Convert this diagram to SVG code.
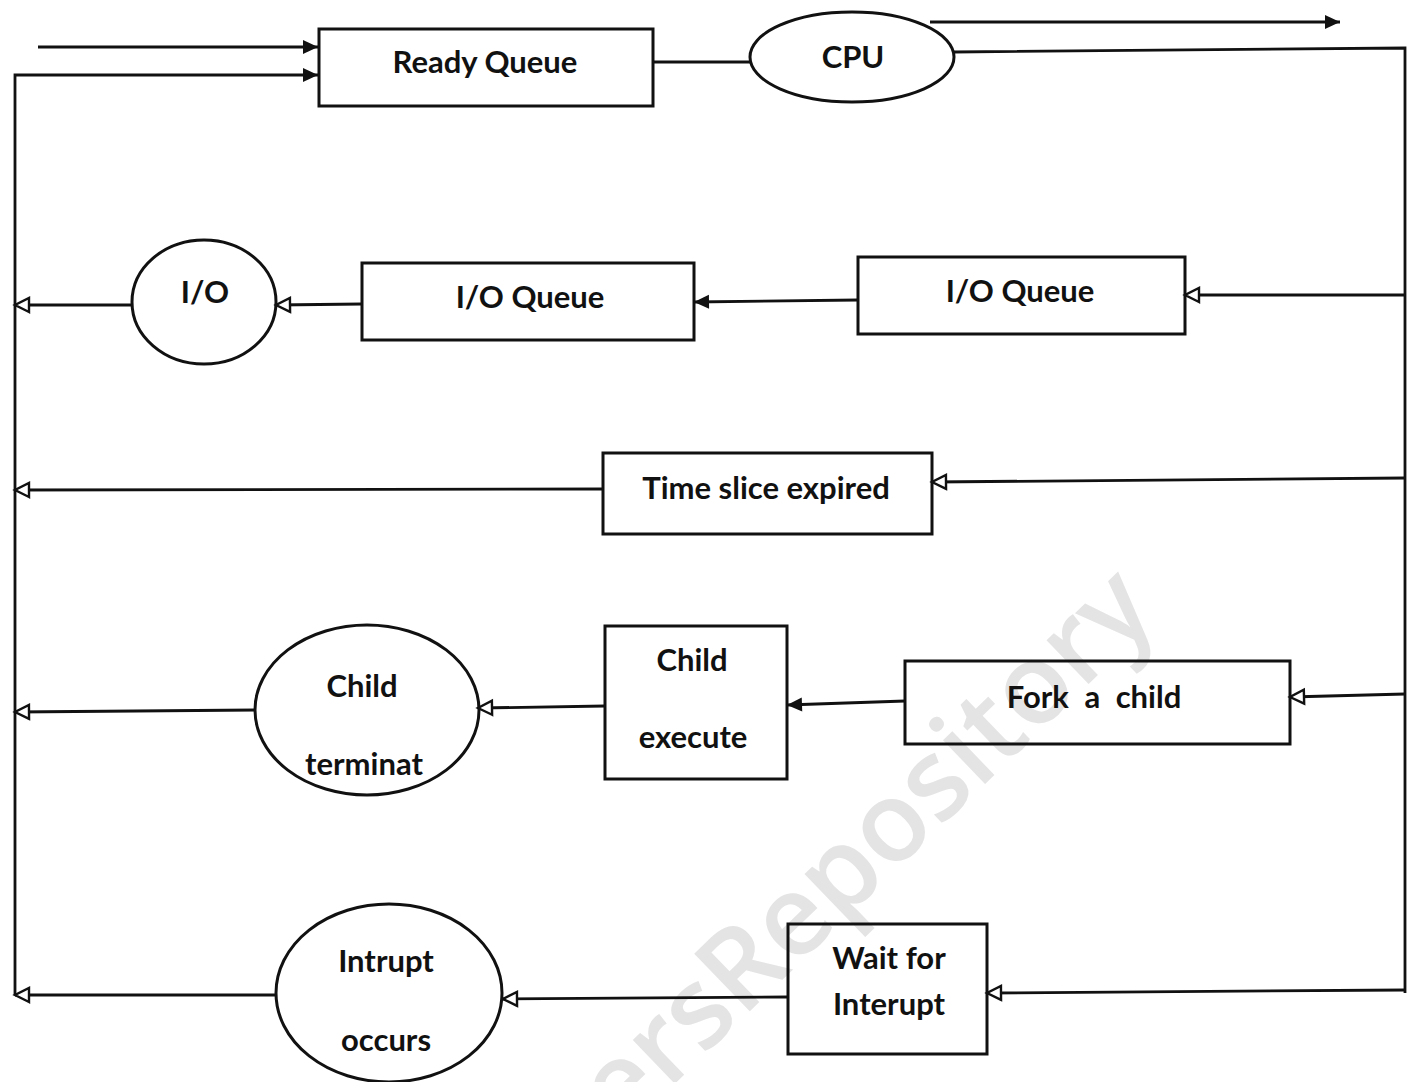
<svg xmlns="http://www.w3.org/2000/svg" width="1422" height="1082" viewBox="0 0 1422 1082">
<defs>
<style>
.n{fill:none;stroke:#111;stroke-width:3}
.t{font-family:Lato,"Open Sans","Liberation Sans",sans-serif;font-weight:700;font-size:31px;fill:#111;text-anchor:middle}
.c{fill:none;stroke:#111;stroke-width:2.8}
.wm{font-family:"Open Sans","Liberation Sans",sans-serif;font-weight:600;font-size:112px;fill:#e4e4e4}
</style>
<marker id="af" markerUnits="userSpaceOnUse" markerWidth="18" markerHeight="18" viewBox="0 0 18 18" refX="16" refY="9" orient="auto"><path d="M1,2 L16,9 L1,16 Z" fill="#111"/></marker>
<marker id="ah" markerUnits="userSpaceOnUse" markerWidth="20" markerHeight="20" viewBox="0 0 20 20" refX="17" refY="10" orient="auto"><path d="M3,3 L17,10 L3,17 Z" fill="#fff" stroke="#111" stroke-width="2.4"/></marker>
</defs>
<rect width="1422" height="1082" fill="#fff"/>
<text class="wm" transform="translate(1160,615) rotate(-44)" text-anchor="end">PapersRepository</text>

<g id="connectors">
<path class="c" d="M38,47 H318" marker-end="url(#af)"/>
<path class="c" d="M15,995 V75 H318" marker-end="url(#af)"/>
<path class="c" d="M653,62 H750"/>
<path class="c" d="M930,22 H1340" marker-end="url(#af)"/>
<path class="c" d="M954,52 L1405,48 V993"/>
<path class="c" d="M1405,295 H1185" marker-end="url(#ah)"/>
<path class="c" d="M858,300 L694,302" marker-end="url(#af)"/>
<path class="c" d="M362,304 L276,305" marker-end="url(#ah)"/>
<path class="c" d="M132,305 H15" marker-end="url(#ah)"/>
<path class="c" d="M1405,478 L932,482" marker-end="url(#ah)"/>
<path class="c" d="M603,489 L15,490" marker-end="url(#ah)"/>
<path class="c" d="M1405,694 L1290,697" marker-end="url(#ah)"/>
<path class="c" d="M905,701 L787,705" marker-end="url(#af)"/>
<path class="c" d="M605,706 L478,708" marker-end="url(#ah)"/>
<path class="c" d="M256,710 L15,712" marker-end="url(#ah)"/>
<path class="c" d="M1405,990 L987,993" marker-end="url(#ah)"/>
<path class="c" d="M788,997 L503,999" marker-end="url(#ah)"/>
<path class="c" d="M276,995 H15" marker-end="url(#ah)"/>
</g>

<g id="ready-queue"><rect class="n" x="319" y="29" width="334" height="77"/><text class="t" x="485" y="73">Ready Queue</text></g>
<g id="cpu"><ellipse class="n" cx="852" cy="57" rx="102" ry="45"/><text class="t" x="853" y="68">CPU</text></g>
<g id="io-queue-2"><rect class="n" x="858" y="257" width="327" height="77"/><text class="t" x="1020" y="302">I/O Queue</text></g>
<g id="io-queue-1"><rect class="n" x="362" y="263" width="332" height="77"/><text class="t" x="530" y="308">I/O Queue</text></g>
<g id="io"><ellipse class="n" cx="204" cy="302" rx="72" ry="62"/><text class="t" x="205" y="303">I/O</text></g>
<g id="time-slice"><rect class="n" x="603" y="453" width="329" height="81"/><text class="t" x="766" y="499">Time slice expired</text></g>
<g id="fork-child"><rect class="n" x="905" y="661" width="385" height="83"/><text class="t" x="1094" y="708" word-spacing="8">Fork a child</text></g>
<g id="child-execute"><rect class="n" x="605" y="626" width="182" height="153"/><text class="t" x="692" y="671">Child</text><text class="t" x="693" y="748">execute</text></g>
<g id="child-terminate"><ellipse class="n" cx="367" cy="710" rx="112" ry="85"/><text class="t" x="362" y="697">Child</text><text class="t" x="364" y="775">terminat</text></g>
<g id="wait-interrupt"><rect class="n" x="788" y="924" width="199" height="130"/><text class="t" x="889" y="969">Wait for</text><text class="t" x="889" y="1015">Interupt</text></g>
<g id="interrupt-occurs"><ellipse class="n" cx="389" cy="993" rx="113" ry="89"/><text class="t" x="386" y="972">Intrupt</text><text class="t" x="386" y="1051">occurs</text></g>
</svg>
